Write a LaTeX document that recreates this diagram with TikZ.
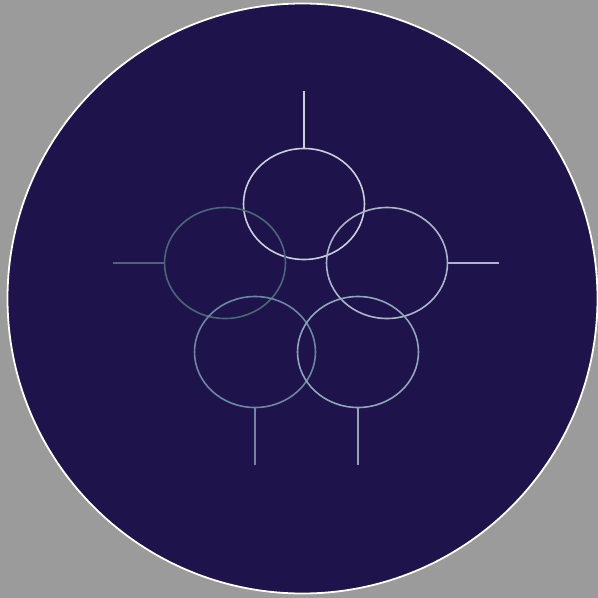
\documentclass[tikz,border=0pt]{standalone}
\usepackage{tikz}
\usetikzlibrary{shapes.geometric,positioning}
\definecolor{bgGray}{HTML}{9B9B9B}
\definecolor{discPurple}{HTML}{1E134A}
\definecolor{ringA}{HTML}{C9CEE0}
\definecolor{ringB}{HTML}{4B6679}
\definecolor{ringC}{HTML}{AAB5CA}
\definecolor{ringD}{HTML}{6B88A2}
\definecolor{ringE}{HTML}{90A5BA}

\begin{document}
\begin{tikzpicture}[
  x=1pt, y=-1pt,
  ring/.style={draw, ellipse, minimum width=121pt, minimum height=111pt,
               inner sep=0pt, line width=1.6pt},
  stem/.style={line width=1.6pt}
]
\fill[bgGray] (0,0) rectangle (598,598);
\useasboundingbox (0,0) rectangle (598,598);
\node[circle, draw=white, fill=discPurple, line width=1.8pt,
      minimum size=590pt, inner sep=0pt] (disc) at (302.5,298.5) {};
% five rings
\node[ring, draw=ringA] (top) at (304,204) {};
\node[ring, draw=ringB] (left) at (225,263) {};
\node[ring, draw=ringC] (right) at (387,263) {};
\node[ring, draw=ringD] (botl) at (255,352) {};
\node[ring, draw=ringE] (botr) at (358,352) {};
% stem ends
\coordinate (topend) at (304,91);
\coordinate (leftend) at (113,263);
\coordinate (rightend) at (499,263);
\coordinate (botlend) at (255,465);
\coordinate (botrend) at (358,465);
\draw[stem, ringA] (top.north) -- (topend);
\draw[stem, ringB] (left.west) -- (leftend);
\draw[stem, ringC] (right.east) -- (rightend);
\draw[stem, ringD] (botl.south) -- (botlend);
\draw[stem, ringE] (botr.south) -- (botrend);
\end{tikzpicture}
\end{document}
